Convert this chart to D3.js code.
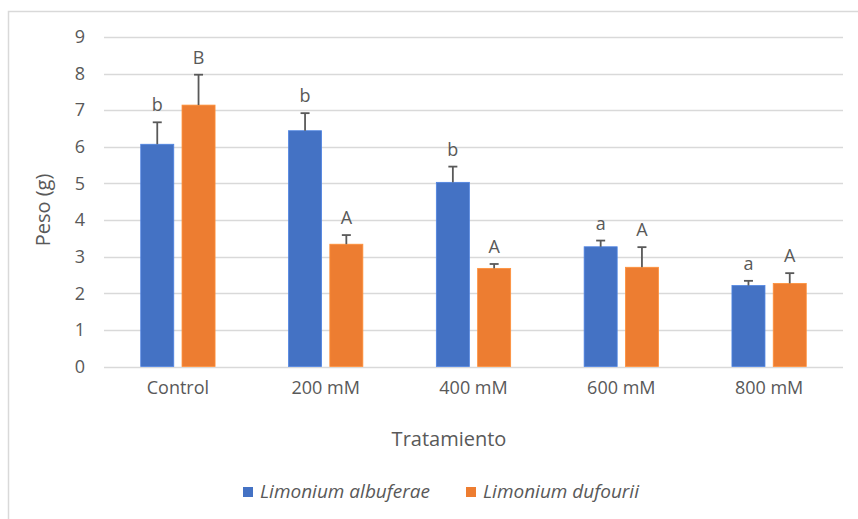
<!DOCTYPE html>
<html>
<head>
<meta charset="utf-8">
<script src="https://cdn.jsdelivr.net/npm/d3@7"></script>
<style>
  html, body { margin: 0; padding: 0; background: #fff; }
  svg { display: block; font-family: "Open Sans", sans-serif; }
</style>
</head>
<body>
<svg id="chart" width="858" height="519"></svg>
<script>
// Treatments and the two species
const categories = ["Control", "200 mM", "400 mM", "600 mM", "800 mM"];
const seriesNames = ["Limonium albuferae", "Limonium dufourii"];
const colors = ["#4472C4", "#ED7D31"];

// Mean weight (g) per treatment
const albuferae = [6.07, 6.44, 5.03, 3.27, 2.21];
const dufourii = [7.14, 3.34, 2.68, 2.71, 2.27];

// Standard error (upper bar only)
const albuferaeErr = [0.60, 0.48, 0.43, 0.17, 0.13];
const dufouriiErr = [0.83, 0.25, 0.12, 0.55, 0.28];

// Significance letters
const albuferaeLetters = ["b", "b", "b", "a", "a"];
const dufouriiLetters = ["B", "A", "A", "A", "A"];

const yTicks = [0, 1, 2, 3, 4, 5, 6, 7, 8, 9];

const series = [
  { name: seriesNames[0], values: albuferae, err: albuferaeErr, letters: albuferaeLetters, color: colors[0] },
  { name: seriesNames[1], values: dufourii, err: dufouriiErr, letters: dufouriiLetters, color: colors[1] }
];

const svg = d3.select("#chart");
const textColor = "#595959";

// Outer frame (left and top edges visible)
svg.append("path")
  .attr("d", "M8.5,519 L8.5,11.5 L858,11.5")
  .attr("fill", "none")
  .attr("stroke", "#D9D9D9")
  .attr("stroke-width", 1.5);

const plot = { left: 104, right: 843, top: 37, bottom: 366.5 };

const x = d3.scaleBand().domain(categories).range([plot.left, plot.right]).padding(0);
const xs = d3.scaleBand().domain(seriesNames).range([0, x.bandwidth()])
  .paddingInner(0.2).paddingOuter(0.89);
const y = d3.scaleLinear().domain([0, 9]).range([plot.bottom, plot.top]);

// Horizontal gridlines
svg.append("g").selectAll("line").data(yTicks).join("line")
  .attr("x1", plot.left).attr("x2", plot.right)
  .attr("y1", d => Math.round(y(d)) + 0.5).attr("y2", d => Math.round(y(d)) + 0.5)
  .attr("stroke", "#D9D9D9").attr("stroke-width", 1.5);

// Y axis tick labels
const yAxis = d3.axisLeft(y).tickValues(yTicks).tickSize(0).tickPadding(0).tickFormat(d3.format("d"));
const gy = svg.append("g").attr("transform", `translate(85,0)`).call(yAxis);
gy.select(".domain").remove();
gy.selectAll("text").attr("fill", textColor).style("font-size", "18px")
  .style("font-family", "'Open Sans', sans-serif");

// X axis category labels
const xAxis = d3.axisBottom(x).tickSize(0).tickPadding(0);
const gx = svg.append("g").attr("transform", `translate(0,381)`).call(xAxis);
gx.select(".domain").remove();
gx.selectAll("text").attr("fill", textColor).style("font-size", "18px")
  .style("font-family", "'Open Sans', sans-serif");

// Bars
const groups = svg.append("g").selectAll("g").data(series).join("g");
groups.selectAll("rect").data(s => s.values.map((v, i) => ({ s, v, i }))).join("rect")
  .attr("x", d => x(categories[d.i]) + xs(d.s.name))
  .attr("width", xs.bandwidth())
  .attr("y", d => y(d.v))
  .attr("height", d => y(0) - y(d.v))
  .attr("fill", d => d.s.color)
  .attr("stroke", d => d3.color(d.s.color).brighter(0.4))
  .attr("stroke-width", 0.8);

// Error bars (upper)
const errG = svg.append("g");
series.forEach(s => {
  s.values.forEach((v, i) => {
    const cx = x(categories[i]) + xs(s.name) + xs.bandwidth() / 2;
    const top = y(v + s.err[i]);
    errG.append("line")
      .attr("x1", cx).attr("x2", cx).attr("y1", y(v)).attr("y2", top)
      .attr("stroke", "#595959").attr("stroke-width", 1.8);
    errG.append("line")
      .attr("x1", cx - 4.5).attr("x2", cx + 4.5).attr("y1", top).attr("y2", top)
      .attr("stroke", "#595959").attr("stroke-width", 1.8);
    // Letter above the error bar
    errG.append("text")
      .attr("x", cx).attr("y", top - 11)
      .attr("text-anchor", "middle")
      .attr("fill", textColor)
      .style("font-size", "18px")
      .text(s.letters[i]);
  });
});

// Axis titles
svg.append("text")
  .attr("transform", "translate(50,210) rotate(-90)")
  .attr("text-anchor", "middle")
  .attr("fill", textColor)
  .style("font-size", "20px")
  .text("Peso (g)");

svg.append("text")
  .attr("x", 449).attr("y", 446)
  .attr("text-anchor", "middle")
  .attr("fill", textColor)
  .style("font-size", "20px")
  .text("Tratamiento");

// Legend
const legendItems = [{ x: 243 }, { x: 466 }];
const lg = svg.append("g");
series.forEach((s, i) => {
  const lx = legendItems[i].x;
  lg.append("rect").attr("x", lx).attr("y", 487).attr("width", 10).attr("height", 10).attr("fill", s.color);
  lg.append("text").attr("x", lx + 17).attr("y", 498)
    .attr("fill", textColor)
    .style("font-size", "19px").style("font-style", "italic")
    .text(s.name);
});
</script>
</body>
</html>
